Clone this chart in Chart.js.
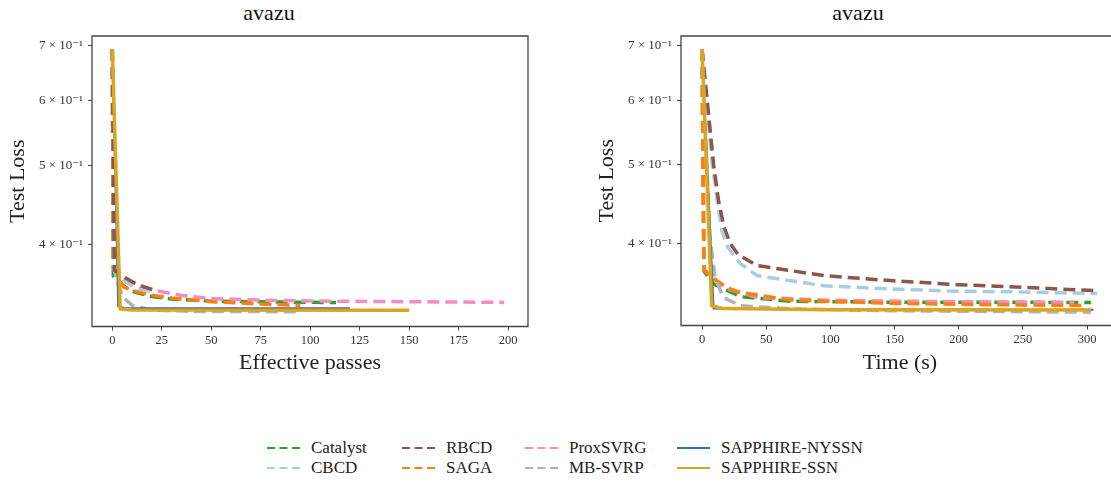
<!DOCTYPE html>
<html>
<head>
<meta charset="utf-8">
<title>avazu</title>
<script src="https://cdn.jsdelivr.net/npm/chart.js@4.4.1/dist/chart.umd.min.js"></script>
<style>
    html, body { margin: 0; padding: 0; background: #fff; overflow: hidden; width: 1111px; height: 482px; }
    canvas { position: absolute; top: 0; }
    #passesChart { left: 0; }
    #timeChart { left: 589px; }
    .plot-title { position: absolute; top: 0px; line-height: 24px; font: 22px "Liberation Serif", "DejaVu Serif", serif; color: #111; transform: translateX(-50%); white-space: nowrap; }
    .legend-item { position: absolute; height: 20px; line-height: 20px; display: flex; align-items: center; font: 17px "Liberation Serif", "DejaVu Serif", serif; color: #222; white-space: nowrap; }
    .legend-item svg { margin-right: 11px; }
</style>
</head>
<body>
<div class="plot-title" style="left:269px">avazu</div>
<div class="plot-title" style="left:858px">avazu</div>
<canvas id="passesChart" width="560" height="380"></canvas>
<canvas id="timeChart" width="560" height="380"></canvas>
<div id="legend"></div>

<script>
// series, in legend order
const seriesNames = ["Catalyst", "CBCD", "RBCD", "SAGA", "ProxSVRG", "MB-SVRP", "SAPPHIRE-NYSSN", "SAPPHIRE-SSN"];
const seriesColors = ["#2ca02c", "#a6cee3", "#8c564b", "#ff7f0e", "#f48cc4", "#b3b3b3", "#3b6db3", "#daa520"];
const seriesDashed = [true, true, true, true, true, true, false, false];

// left panel: test loss vs effective passes
const catalystPasses = [[0, 0.693], [0.5, 0.366], [3, 0.3595], [10, 0.3505], [20, 0.3455], [30, 0.343], [50, 0.341], [80, 0.3402], [113, 0.3396]];
const cbcdPasses = [[0, 0.693], [1, 0.372], [5, 0.362], [10, 0.356], [15, 0.3525], [20, 0.3505]];
const rbcdPasses = [[0, 0.693], [1, 0.372], [5, 0.366], [10, 0.36], [15, 0.3555], [21, 0.352]];
const sagaPasses = [[0, 0.693], [0.5, 0.378], [2, 0.366], [6, 0.3545], [12, 0.3505], [19, 0.347], [30, 0.344], [50, 0.3405], [75, 0.3382], [95, 0.337]];
const proxsvrgPasses = [[0, 0.693], [1, 0.372], [5, 0.3656], [10, 0.36], [20, 0.352], [35, 0.3465], [50, 0.3435], [75, 0.342], [100, 0.3411], [150, 0.3404], [198, 0.3398]];
const mbsvrpPasses = [[0, 0.693], [1, 0.372], [3, 0.357], [5.5, 0.3446], [10, 0.337], [20, 0.3325], [40, 0.3313], [70, 0.3311], [95, 0.331]];
const nyssnPasses = [[0, 0.693], [3, 0.336], [6, 0.3345], [120, 0.3343]];
const ssnPasses = [[0, 0.693], [4, 0.3335], [10, 0.3326], [150, 0.3324]];

// right panel: test loss vs wall time (s)
const catalystTime = [[0, 0.693], [1.5, 0.37], [9, 0.357], [30, 0.3444], [69, 0.34], [147, 0.339], [303, 0.3389]];
const cbcdTime = [[0, 0.693], [3.5, 0.6], [8, 0.5], [12, 0.45], [15.4, 0.415], [20, 0.396], [30, 0.378], [43, 0.3655], [95, 0.3552], [147, 0.352], [199, 0.3497], [251, 0.349], [308, 0.3475]];
const rbcdTime = [[0, 0.693], [4, 0.6], [9, 0.5], [13, 0.45], [17, 0.42], [22, 0.4], [28, 0.388], [43, 0.376], [95, 0.3655], [147, 0.3604], [199, 0.3563], [251, 0.3536], [307, 0.3503]];
const sagaTime = [[0, 0.693], [1.5, 0.371], [9, 0.362], [20, 0.353], [30, 0.3485], [69, 0.3412], [147, 0.338], [225, 0.3367], [299, 0.336]];
const proxsvrgTime = [[0, 0.693], [1.5, 0.372], [9, 0.363], [20, 0.352], [43, 0.3437], [100, 0.341], [147, 0.3402], [200, 0.3395], [290, 0.339]];
const mbsvrpTime = [[0, 0.693], [6, 0.41], [10, 0.364], [16.6, 0.3437], [30, 0.3357], [69, 0.3328], [150, 0.331], [303, 0.3297]];
const nyssnTime = [[0, 0.693], [9, 0.333], [100, 0.3322], [305, 0.332]];
const ssnTime = [[0, 0.693], [7.5, 0.3357], [16.6, 0.333], [100, 0.332], [303, 0.3318]];

// ticks
const passesXTicks = [0, 25, 50, 75, 100, 125, 150, 175, 200];
const timeXTicks = [0, 50, 100, 150, 200, 250, 300];
const yTickValues = [0.4, 0.5, 0.6, 0.7];
const yTickLabels = ["4 × 10⁻¹", "5 × 10⁻¹", "6 × 10⁻¹", "7 × 10⁻¹"];

const FONT = "'Liberation Serif', 'DejaVu Serif', serif";

// matplotlib-style box around the axes (right side optional: cut off by the figure edge)
const framePlugin = {
    id: "frame",
    afterDraw(chart, args, opts) {
        const { ctx, chartArea } = chart;
        const { left, top, right, bottom } = chartArea;
        ctx.save();
        ctx.strokeStyle = "#444";
        ctx.lineWidth = 1.3;
        ctx.beginPath();
        if (opts.rightSide === false) {
            ctx.moveTo(right + 40, top);
            ctx.lineTo(left, top);
            ctx.lineTo(left, bottom);
            ctx.lineTo(right + 40, bottom);
        } else {
            ctx.rect(left, top, right - left, bottom - top);
        }
        ctx.stroke();
        ctx.restore();
    },
};

function makeChart(canvasId, cfg) {
    // drawOrder lists series bottom -> top; chart.js puts lower `order` on top
    const datasets = seriesNames.map((name, i) => ({
        label: name,
        data: cfg.series[i].map(([x, y]) => ({ x, y })),
        borderColor: seriesColors[i],
        borderWidth: i === 6 ? 2 : 3.5,
        borderDash: seriesDashed[i] ? [12, 6] : [],
        borderJoinStyle: "round",
        pointRadius: 0,
        fill: false,
        tension: 0,
        order: cfg.drawOrder.length - cfg.drawOrder.indexOf(name),
    }));

    const tickGrid = { display: true, drawOnChartArea: false, drawTicks: true, tickLength: 4, color: "#444", lineWidth: 1 };

    return new Chart(document.getElementById(canvasId), {
        type: "line",
        data: { datasets },
        options: {
            responsive: false,
            animation: false,
            events: [],
            layout: { padding: { left: 0, right: cfg.padRight, top: 36, bottom: 0 } },
            plugins: {
                legend: { display: false },
                tooltip: { enabled: false },
                frame: { rightSide: cfg.rightSide },
            },
            scales: {
                x: {
                    type: "linear",
                    min: cfg.xMin,
                    max: cfg.xMax,
                    afterBuildTicks: (s) => { s.ticks = cfg.xTicks.map((v) => ({ value: v })); },
                    afterFit: (s) => { s.height = cfg.xAxisHeight; },
                    grid: tickGrid,
                    border: { display: false },
                    ticks: { autoSkip: false, maxRotation: 0, padding: 3, color: "#333", font: { family: FONT, size: 12.5 }, callback: (v) => String(v) },
                    title: { display: true, text: cfg.xTitle, color: "#222", font: { family: FONT, size: 22 }, padding: { top: 0, bottom: 4 } },
                },
                y: {
                    type: "logarithmic",
                    min: 0.3175,
                    max: 0.719,
                    afterBuildTicks: (s) => { s.ticks = yTickValues.map((v) => ({ value: v })); },
                    afterFit: (s) => { s.width = 92; },
                    grid: tickGrid,
                    border: { display: false },
                    ticks: { autoSkip: false, padding: 5, color: "#333", font: { family: FONT, size: 13 }, callback: (v, i) => yTickLabels[i] },
                    title: { display: true, text: "Test Loss", color: "#222", font: { family: FONT, size: 22 }, padding: { top: 5, bottom: 0 } },
                },
            },
        },
        plugins: [framePlugin],
    });
}

makeChart("passesChart", {
    series: [catalystPasses, cbcdPasses, rbcdPasses, sagaPasses, proxsvrgPasses, mbsvrpPasses, nyssnPasses, ssnPasses],
    drawOrder: ["Catalyst", "CBCD", "SAGA", "ProxSVRG", "MB-SVRP", "RBCD", "SAPPHIRE-NYSSN", "SAPPHIRE-SSN"],
    xTicks: passesXTicks,
    xMin: -10.25,
    xMax: 210,
    xTitle: "Effective passes",
    padRight: 32,
    xAxisHeight: 53.5,
    rightSide: true,
});

makeChart("timeChart", {
    series: [catalystTime, cbcdTime, rbcdTime, sagaTime, proxsvrgTime, mbsvrpTime, nyssnTime, ssnTime],
    drawOrder: ["Catalyst", "CBCD", "RBCD", "ProxSVRG", "SAGA", "MB-SVRP", "SAPPHIRE-NYSSN", "SAPPHIRE-SSN"],
    xTicks: timeXTicks,
    xMin: -16.4,
    xMax: 324.9,
    xTitle: "Time (s)",
    padRight: 30,
    xAxisHeight: 54.5,
    rightSide: false,
});

// legend: 4 columns x 2 rows below the panels
const legendColX = [267, 402, 525, 677];
const legendRowY = [448, 468];
const legend = document.getElementById("legend");
seriesNames.forEach((name, i) => {
    const item = document.createElement("div");
    item.className = "legend-item";
    item.style.left = legendColX[Math.floor(i / 2)] + "px";
    item.style.top = (legendRowY[i % 2] - 10) + "px";
    const dash = seriesDashed[i] ? 'stroke-dasharray="8 4.5"' : "";
    item.innerHTML = '<svg width="33" height="20"><line x1="0" y1="10" x2="33" y2="10" stroke="' + seriesColors[i] +
        '" stroke-width="2" ' + dash + '/></svg><span>' + name + "</span>";
    legend.appendChild(item);
});
</script>
</body>
</html>
